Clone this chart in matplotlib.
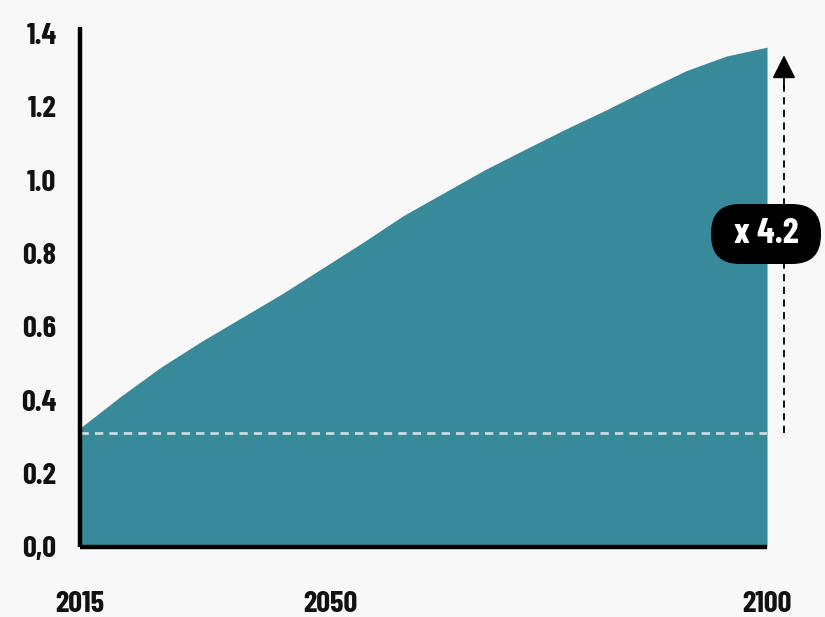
import matplotlib
matplotlib.use("Agg")
import matplotlib.pyplot as plt
from matplotlib.patches import FancyBboxPatch
from matplotlib.transforms import IdentityTransform

years = [2015, 2020, 2025, 2030, 2035, 2040, 2045, 2050, 2055, 2060, 2065, 2070,
         2075, 2080, 2085, 2090, 2095, 2100]
values = [0.324, 0.41, 0.49, 0.56, 0.625, 0.69, 0.76, 0.83, 0.903, 0.965, 1.027,
          1.083, 1.138, 1.19, 1.245, 1.298, 1.338, 1.362]
baseline = 0.31
multiplier_label = "x 4.2"
ytick_vals = [0.0, 0.2, 0.4, 0.6, 0.8, 1.0, 1.2, 1.4]
ytick_labels = ['0,0', '0.2', '0.4', '0.6', '0.8', '1.0', '1.2', '1.4']
xtick_labels = ['2015', '2050', '2100']
xtick_pos = [2015, 2046, 2100]

FONT = ['Barlow Condensed', 'Roboto Condensed', 'Oswald', 'DejaVu Sans']
BG = '#f8f8f8'
TEAL = '#388a9b'

fig = plt.figure(figsize=(8.25, 6.17), dpi=100, facecolor=BG)
ax = fig.add_axes([80/825, 70/617, 687/825, 520/617])
ax.set_facecolor(BG)

ax.fill_between(years, values, 0, color=TEAL, lw=0)
ax.plot([years[0], years[-1]], [baseline, baseline], color='#c8dde0',
        lw=2, dashes=(3, 2.2))

ax.set_xlim(2015, 2100)
ax.set_ylim(0, 1.417)

for s in ['top', 'right']:
    ax.spines[s].set_visible(False)
for s in ['left', 'bottom']:
    ax.spines[s].set_linewidth(3.2)
    ax.spines[s].set_color('black')
    ax.spines[s].set_capstyle('butt')

ax.set_yticks(ytick_vals)
ax.set_yticklabels(ytick_labels, fontfamily=FONT, fontweight='bold',
                   fontsize=22, color='#111111')
ax.set_xticks(xtick_pos)
ax.set_xticklabels(xtick_labels, fontfamily=FONT, fontweight='bold',
                   fontsize=22, color='#111111')
ax.tick_params(axis='y', length=0, pad=17)
ax.tick_params(axis='x', length=0, pad=32)

# dashed arrow showing growth
xa = 2102.1
ax.plot([xa, xa], [baseline, 1.26], color='black', lw=1.3, dashes=(4, 3),
        clip_on=False)
ax.annotate('', xy=(xa, 1.34), xytext=(xa, 1.25),
            arrowprops=dict(arrowstyle='-|>', color='black', lw=1.3,
                            mutation_scale=36, shrinkA=0, shrinkB=0),
            annotation_clip=False)

# pill label (pixel units)
xc_px, yc_px = 766, 234
w_px, h_px = 110, 60
pill = FancyBboxPatch((xc_px - w_px/2, 617 - yc_px - h_px/2), w_px, h_px,
                      boxstyle="round,pad=0,rounding_size=%f" % (h_px / 2 - 1),
                      transform=IdentityTransform(), facecolor='black',
                      edgecolor='none')
fig.patches.append(pill)
fig.text(xc_px / 825, (617 - yc_px) / 617, multiplier_label, ha='center',
         va='center', color='white', fontfamily=FONT, fontweight='bold',
         fontsize=26)

fig.savefig('out.png', dpi=100, facecolor=BG)
